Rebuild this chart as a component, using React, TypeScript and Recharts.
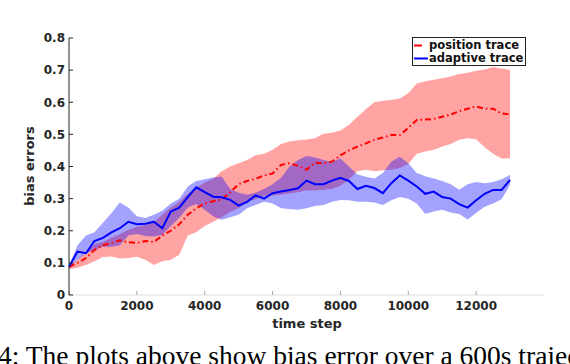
import { ComposedChart, Area, Line, XAxis, YAxis } from "recharts"

const timeSteps = [
    0, 250, 500, 750, 1000, 1250, 1500, 1750, 2000, 2250, 2500, 2750, 3000, 3250, 3500, 3750, 4000, 4250,
    4500, 4750, 5000, 5250, 5500, 5750, 6000, 6250, 6500, 6750, 7000, 7250, 7500, 7750, 8000, 8250, 8500,
    8750, 9000, 9250, 9500, 9750, 10000, 10250, 10500, 10750, 11000, 11250, 11500, 11750, 12000, 12250,
    12500, 12750, 13000,
]

// position trace: mean and shaded band
const positionMean = [
    0.088, 0.1, 0.115, 0.14, 0.155, 0.162, 0.17, 0.164, 0.162, 0.168, 0.165, 0.185, 0.2, 0.22, 0.25, 0.27,
    0.285, 0.292, 0.297, 0.32, 0.345, 0.355, 0.362, 0.372, 0.378, 0.405, 0.41, 0.402, 0.39, 0.412, 0.41,
    0.415, 0.435, 0.45, 0.462, 0.472, 0.483, 0.49, 0.498, 0.498, 0.52, 0.545, 0.546, 0.548, 0.555, 0.562,
    0.572, 0.58, 0.587, 0.58, 0.58, 0.565, 0.562,
]
const positionUpper = [
    0.09, 0.11, 0.135, 0.158, 0.165, 0.178, 0.19, 0.203, 0.212, 0.218, 0.228, 0.25, 0.272, 0.29, 0.315,
    0.335, 0.35, 0.362, 0.385, 0.4, 0.41, 0.42, 0.435, 0.44, 0.452, 0.47, 0.478, 0.482, 0.484, 0.488, 0.502,
    0.505, 0.512, 0.53, 0.555, 0.578, 0.6, 0.605, 0.607, 0.612, 0.628, 0.658, 0.665, 0.67, 0.675, 0.68,
    0.688, 0.692, 0.698, 0.702, 0.71, 0.705, 0.7,
]
const positionLower = [
    0.08, 0.085, 0.093, 0.105, 0.118, 0.12, 0.114, 0.115, 0.119, 0.11, 0.093, 0.105, 0.11, 0.125, 0.185,
    0.195, 0.215, 0.228, 0.242, 0.258, 0.27, 0.29, 0.298, 0.308, 0.31, 0.312, 0.316, 0.32, 0.326, 0.325,
    0.328, 0.33, 0.34, 0.36, 0.385, 0.39, 0.385, 0.388, 0.39, 0.395, 0.408, 0.44, 0.447, 0.452, 0.462, 0.47,
    0.483, 0.488, 0.485, 0.46, 0.44, 0.425, 0.426,
]

// adaptive trace: mean and shaded band
const adaptiveMean = [
    0.088, 0.135, 0.13, 0.168, 0.178, 0.195, 0.208, 0.228, 0.22, 0.222, 0.228, 0.208, 0.26, 0.272, 0.305,
    0.335, 0.32, 0.306, 0.304, 0.296, 0.278, 0.29, 0.31, 0.3, 0.317, 0.322, 0.327, 0.332, 0.356, 0.345,
    0.345, 0.356, 0.365, 0.355, 0.33, 0.34, 0.333, 0.317, 0.348, 0.372, 0.356, 0.338, 0.315, 0.322, 0.305,
    0.3, 0.283, 0.272, 0.295, 0.315, 0.327, 0.327, 0.358,
]
const adaptiveUpper = [
    0.09, 0.155, 0.185, 0.195, 0.225, 0.255, 0.288, 0.272, 0.245, 0.24, 0.25, 0.262, 0.285, 0.3, 0.338,
    0.355, 0.36, 0.366, 0.369, 0.33, 0.318, 0.312, 0.318, 0.33, 0.345, 0.365, 0.4, 0.42, 0.433, 0.428,
    0.42, 0.415, 0.425, 0.4, 0.375, 0.368, 0.363, 0.38, 0.415, 0.43, 0.41, 0.38, 0.37, 0.363, 0.355, 0.345,
    0.328, 0.345, 0.352, 0.348, 0.352, 0.36, 0.374,
]
const adaptiveLower = [
    0.085, 0.11, 0.13, 0.14, 0.15, 0.15, 0.155, 0.185, 0.19, 0.184, 0.182, 0.187, 0.215, 0.24, 0.272,
    0.283, 0.265, 0.245, 0.234, 0.242, 0.25, 0.27, 0.28, 0.29, 0.285, 0.27, 0.268, 0.265, 0.27, 0.277,
    0.28, 0.29, 0.296, 0.295, 0.29, 0.29, 0.288, 0.28, 0.295, 0.305, 0.3, 0.285, 0.252, 0.26, 0.265, 0.257,
    0.252, 0.235, 0.255, 0.275, 0.285, 0.298, 0.343,
]

const xTicks = [0, 2000, 4000, 6000, 8000, 10000, 12000]
const yTicks = [0, 0.1, 0.2, 0.3, 0.4, 0.5, 0.6, 0.7, 0.8]

const data = timeSteps.map((t, i) => ({
    t,
    posMean: positionMean[i],
    posBand: [positionLower[i], positionUpper[i]],
    adaMean: adaptiveMean[i],
    adaBand: [adaptiveLower[i], adaptiveUpper[i]],
}))

const tickFont = { fontFamily: "DejaVu Sans", fontWeight: "bold", fontSize: 12, fill: "#262626" }

function LegendBox() {
    const rows = [
        { label: "position trace", color: "#ff0000", len: 8 },
        { label: "adaptive trace", color: "#0000ff", len: 14 },
    ]
    return (
        <div
            style={{
                position: "absolute",
                left: 412,
                top: 37,
                width: 112,
                height: 27,
                border: "1.3px solid #222",
                background: "#fff",
                fontFamily: "DejaVu Sans",
                fontWeight: "bold",
                fontSize: 11.5,
                color: "#111",
            }}
        >
            {rows.map((r, i) => (
                <div key={r.label} style={{ position: "absolute", left: 0, top: 1 + i * 13, height: 13, display: "flex", alignItems: "center" }}>
                    <svg width={16} height={13}>
                        <line x1={1} x2={1 + r.len} y1={6.5} y2={6.5} stroke={r.color} strokeWidth={2} />
                    </svg>
                    <span style={{ whiteSpace: "nowrap", lineHeight: "13px" }}>{r.label}</span>
                </div>
            ))}
        </div>
    )
}

export default function App() {
    return (
        <div style={{ position: "absolute", left: 0, top: 0, width: 570, height: 364, overflow: "hidden", background: "#fff" }}>
            <ComposedChart width={570} height={364} data={data} margin={{ top: 38, right: 26, bottom: 39, left: 0 }}>
                <XAxis
                    dataKey="t"
                    type="number"
                    domain={[0, 14000]}
                    ticks={xTicks}
                    tick={tickFont}
                    tickSize={-4}
                    tickMargin={10}
                    height={30}
                    stroke="#dddddd"
                    tickLine={{ stroke: "#aaaaaa" }}
                    label={{
                        content: () => (
                            <text x={307} y={328} textAnchor="middle" fontFamily="DejaVu Sans" fontWeight="bold" fontSize={13} fill="#262626">
                                time step
                            </text>
                        ),
                    }}
                />
                <YAxis
                    type="number"
                    domain={[0, 0.8]}
                    ticks={yTicks}
                    tick={tickFont}
                    tickFormatter={(v: number) => (v === 0 ? "0" : v.toFixed(1))}
                    tickSize={-4}
                    tickMargin={8}
                    width={69}
                    stroke="#262626"
                    label={{
                        content: () => (
                            <text
                                x={34}
                                y={166}
                                transform="rotate(-90 34 166)"
                                textAnchor="middle"
                                fontFamily="DejaVu Sans"
                                fontWeight="bold"
                                fontSize={13}
                                fill="#262626"
                            >
                                bias errors
                            </text>
                        ),
                    }}
                />
                <Area dataKey="posBand" type="linear" stroke="none" fill="#ff0000" fillOpacity={0.36} isAnimationActive={false} />
                <Area dataKey="adaBand" type="linear" stroke="none" fill="#0000ff" fillOpacity={0.36} isAnimationActive={false} />
                <Line dataKey="posMean" type="linear" stroke="#ff0000" strokeWidth={2} strokeDasharray="6 3 1.5 3" dot={false} isAnimationActive={false} />
                <Line dataKey="adaMean" type="linear" stroke="#0000ff" strokeWidth={2} dot={false} isAnimationActive={false} />
            </ComposedChart>
            <LegendBox />
            <div
                style={{
                    position: "absolute",
                    left: -2,
                    top: 342,
                    fontFamily: "Liberation Serif",
                    fontSize: 27.5,
                    lineHeight: "27px",
                    whiteSpace: "nowrap",
                    color: "#000",
                }}
            >
                4: The plots above show bias error over a 600s trajectory
            </div>
        </div>
    )
}
